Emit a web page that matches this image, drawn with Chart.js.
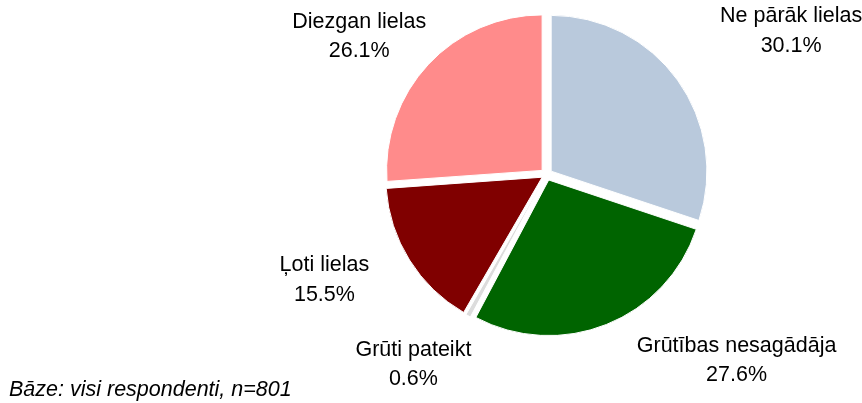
<!DOCTYPE html>
<html lang="lv">
<head>
<meta charset="UTF-8">
<title>Pie</title>
<script src="https://cdn.jsdelivr.net/npm/chart.js@4.4.1/dist/chart.umd.min.js"></script>
<style>
  body { margin: 0; background: #fff; }
  #wrap { position: relative; width: 862px; height: 403px; }
</style>
</head>
<body>
<div id="wrap">
  <canvas id="myChart"></canvas>
</div>
<script>
// dati
var v_labels = ["Ne pārāk lielas", "Grūtības nesagādāja", "Grūti pateikt", "Ļoti lielas", "Diezgan lielas"];
var v_values = [30.1, 27.6, 0.6, 15.5, 26.1];
var v_colors = ["#b9c9dc", "#006400", "#dcdcdc", "#800000", "#ff8b8b"];
var v_note = "Bāze: visi respondenti, n=801";

// etiķešu vieta: attālums no centra un pagrieziens (grādos) no sektora vidus
var v_labelDist = [283.5, 266, 232, 246, 232.6];
var v_labelTurn = [5.4, -23.8, 6.0, 6.5, -6.6];

var v_font = '21.5px "Liberation Sans", Arial, sans-serif';

var labelPlugin = {
    id: "pieLabels",
    afterDatasetsDraw: function(chart) {
        var ctx = chart.ctx;
        var arcs = chart.getDatasetMeta(0).data;
        ctx.save();
        ctx.font = v_font;
        ctx.fillStyle = "#000";
        ctx.textAlign = "center";
        ctx.textBaseline = "middle";
        arcs.forEach(function(arc, i) {
            var mid = (arc.startAngle + arc.endAngle) / 2 + v_labelTurn[i] * Math.PI / 180;
            var x = arc.x + v_labelDist[i] * Math.cos(mid);
            var y = arc.y + v_labelDist[i] * Math.sin(mid);
            ctx.fillText(v_labels[i], x, y - 14.8);
            ctx.fillText(v_values[i].toFixed(1) + "%", x, y + 14.8);
        });
        // piezīme apakšā
        ctx.font = "italic " + v_font;
        ctx.textAlign = "left";
        ctx.textBaseline = "alphabetic";
        ctx.fillText(v_note, 9, 396);
        ctx.restore();
    }
};

// izvirzījums: Chart.js v4 arc zīmē offset/4*(1+fix), te to kompensē, lai visi sektori būtu ~6px
function f_offset(c) {
    var total = 0;
    c.dataset.data.forEach(function(v) { total += v; });
    var circ = c.raw / total * Math.PI * 2;
    var fix = 1 - Math.sin(Math.min(Math.PI, circ));
    return 4 * 6 / (1 + fix);
}

const ctx = document.getElementById("myChart").getContext("2d");
const myChart = new Chart(ctx, {
    type: "pie",
    data: {
        labels: v_labels,
        datasets: [{
            data: v_values,
            backgroundColor: v_colors,
            borderColor: "#fff",
            borderWidth: 1,
            offset: f_offset,
            radius: 155.5
        }]
    },
    options: {
        responsive: true,
        maintainAspectRatio: false,
        animation: false,
        layout: { padding: { left: 231, right: 0, top: 0, bottom: 54 } },
        plugins: {
            legend: { display: false },
            tooltip: { enabled: false }
        }
    },
    plugins: [labelPlugin]
});
</script>
</body>
</html>
